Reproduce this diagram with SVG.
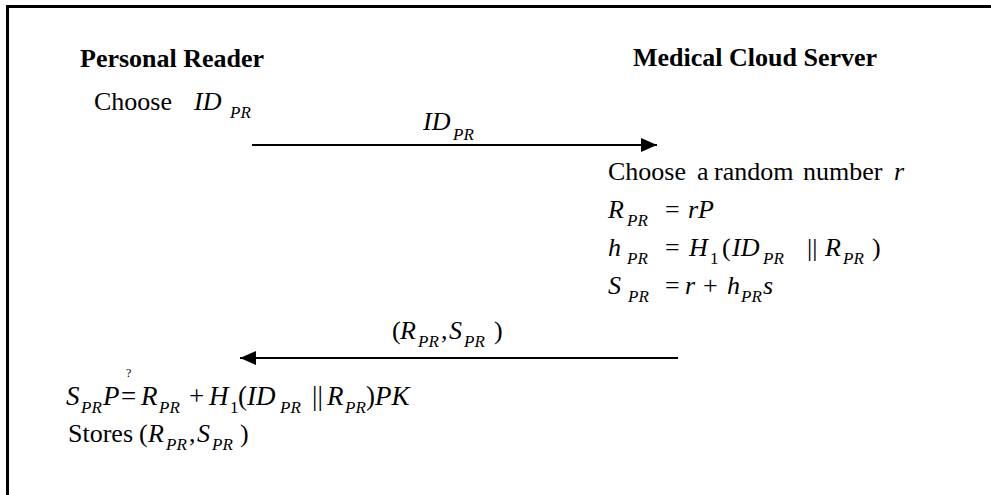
<svg xmlns="http://www.w3.org/2000/svg" width="991" height="495" viewBox="0 0 991 495">
<style>
.t{font-family:"Liberation Serif","Times New Roman",serif;font-size:26px;fill:#000}
.m{font-size:27px}
.b{font-weight:bold}
.i{font-style:italic}
.s{font-size:17px}
.q{font-size:12px}
.ln{stroke:#000;stroke-width:2;fill:none}
</style>
<defs>
<marker id="ah" viewBox="0 0 16 14" refX="16" refY="7" markerWidth="16" markerHeight="14" markerUnits="userSpaceOnUse" orient="auto">
<path d="M0,0 L16,7 L0,14 Z" fill="#000"/>
</marker>
</defs>
<rect width="991" height="495" fill="#fff"/>
<path d="M7.5,495 V6.5 H991" fill="none" stroke="#000" stroke-width="3"/>

<g id="personal-reader">
<text class="t b" x="80" y="67">Personal Reader</text>
<text class="t" x="94" y="110">Choose</text>
<text class="t i" x="194" y="110">ID</text>
<text class="t i s" x="230" y="118">PR</text>
<text class="t m" y="405"><tspan class="i" x="66">S</tspan><tspan class="i s" x="81" y="413">PR</tspan><tspan class="i" x="103" y="405">P</tspan><tspan x="121">=</tspan><tspan class="i" x="141">R</tspan><tspan class="i s" x="159" y="413">PR</tspan><tspan x="189" y="405">+</tspan><tspan class="i" x="209">H</tspan><tspan class="s" x="230" y="413">1</tspan><tspan x="238" y="405">(</tspan><tspan class="i" x="247">ID</tspan><tspan class="i s" x="280" y="413">PR</tspan><tspan x="312" y="405">||</tspan><tspan class="i" x="327">R</tspan><tspan class="i s" x="345" y="413">PR</tspan><tspan x="366" y="405">)</tspan><tspan class="i" x="375">PK</tspan></text>
<text class="t q" x="126" y="377">?</text>
<text class="t" y="442"><tspan x="68">Stores</tspan><tspan x="139">(</tspan><tspan class="i" x="148">R</tspan><tspan class="i s" x="166" y="450">PR</tspan><tspan x="189" y="442">,</tspan><tspan class="i" x="197">S</tspan><tspan class="i s" x="212" y="450">PR</tspan><tspan x="240" y="442">)</tspan></text>
</g>

<g id="medical-cloud-server">
<text class="t b" x="633" y="66">Medical Cloud Server</text>
<text class="t" y="180"><tspan x="608">Choose</tspan><tspan x="697">a</tspan><tspan x="714">random</tspan><tspan x="803">number</tspan><tspan class="i" x="894">r</tspan></text>
<text class="t" y="218"><tspan class="i" x="608">R</tspan><tspan class="i s" x="627" y="226">PR</tspan><tspan x="665" y="218">=</tspan><tspan class="i" x="688">rP</tspan></text>
<text class="t" y="256"><tspan class="i" x="608">h</tspan><tspan class="i s" x="627" y="264">PR</tspan><tspan x="665" y="256">=</tspan><tspan class="i" x="689">H</tspan><tspan class="s" x="710" y="264">1</tspan><tspan x="722" y="256">(</tspan><tspan class="i" x="732">ID</tspan><tspan class="i s" x="763" y="264">PR</tspan><tspan x="807" y="256">||</tspan><tspan class="i" x="825">R</tspan><tspan class="i s" x="843" y="264">PR</tspan><tspan x="872" y="256">)</tspan></text>
<text class="t" y="294"><tspan class="i" x="608">S</tspan><tspan class="i s" x="628" y="302">PR</tspan><tspan x="665" y="294">=</tspan><tspan class="i" x="685">r</tspan><tspan x="703">+</tspan><tspan class="i" x="727">h</tspan><tspan class="i s" x="741" y="302">PR</tspan><tspan class="i" x="763" y="294">s</tspan></text>
</g>

<g id="connectors">
<line class="ln" x1="252" y1="145" x2="657" y2="145" marker-end="url(#ah)"/>
<text class="t" y="130"><tspan class="i" x="423">ID</tspan><tspan class="i s" x="453" y="140">PR</tspan></text>
<line class="ln" x1="678" y1="358" x2="240" y2="358" marker-end="url(#ah)"/>
<text class="t" y="339"><tspan x="392">(</tspan><tspan class="i" x="400">R</tspan><tspan class="i s" x="418" y="347">PR</tspan><tspan x="441" y="339">,</tspan><tspan class="i" x="449">S</tspan><tspan class="i s" x="464" y="347">PR</tspan><tspan x="494" y="339">)</tspan></text>
</g>
</svg>
